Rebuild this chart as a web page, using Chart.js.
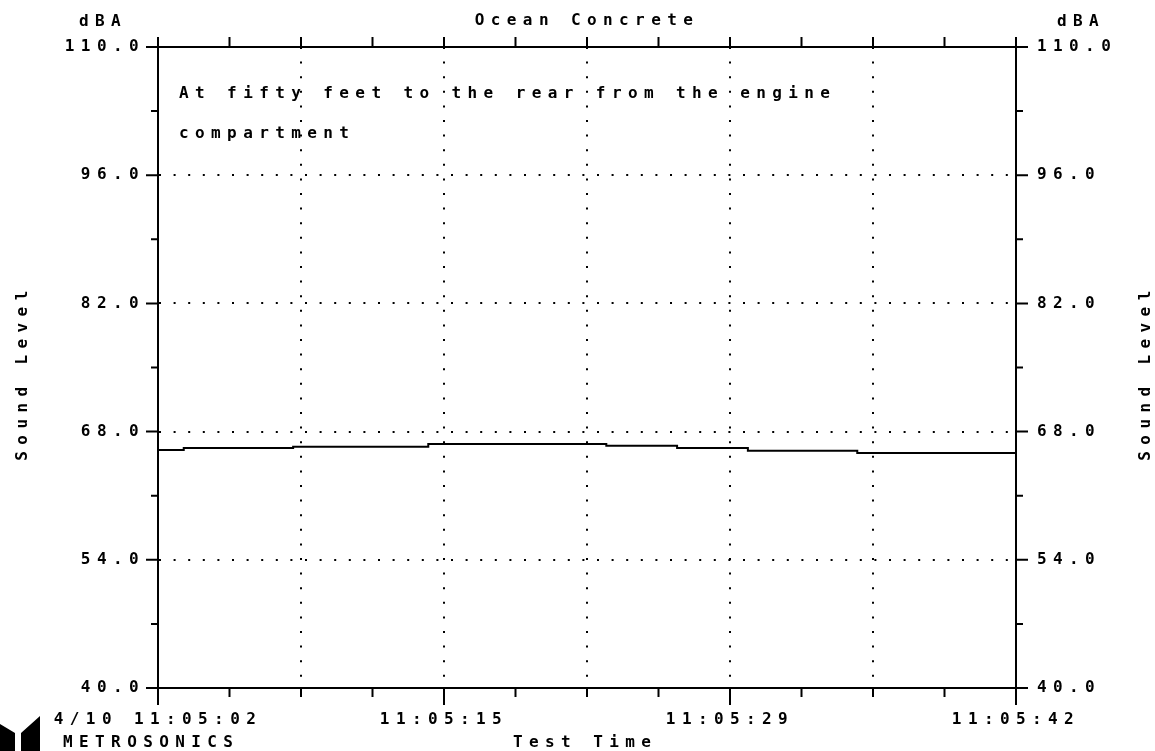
<!DOCTYPE html>
<html>
<head>
<meta charset="utf-8">
<script src="https://cdn.jsdelivr.net/npm/chart.js@4.4.1/dist/chart.umd.min.js"></script>
<style>
  html, body { margin: 0; padding: 0; background: #fff; }
  canvas { display: block; }
</style>
</head>
<body>
<canvas id="levelChart" width="1155" height="751"></canvas>
<script>
// sound level trace (seconds from 11:05:02, dBA)
const timeSec = [0, 1.2, 6.3, 12.6, 20.9, 24.2, 27.5, 32.6, 40];
const soundLevel = [66.0, 66.2, 66.35, 66.65, 66.45, 66.2, 65.9, 65.65, 65.65];

const xTickLabels = ['4/10 11:05:02', '11:05:15', '11:05:29', '11:05:42'];
const yTickValues = [40, 54, 68, 82, 96, 110];

const FONT = { family: '"DejaVu Sans Mono", monospace', size: 16, weight: 'bold' };
const FONT_CSS = 'bold 16px "DejaVu Sans Mono", monospace';
const SPACING = '6.4px';

// 12 tick marks along the time axis, dotted grid on every second one
function timeTicks(scale) {
    const ticks = [];
    for (let i = 0; i <= 12; i++) ticks.push({ value: i * 40 / 12 });
    scale.ticks = ticks;
}

const spacing = {
    id: 'spacing',
    beforeUpdate(chart) { chart.ctx.letterSpacing = SPACING; },
    beforeDraw(chart) { chart.ctx.letterSpacing = SPACING; }
};

const decorations = {
    id: 'decorations',
    afterDraw(chart) {
        const ctx = chart.ctx;
        const area = chart.chartArea;
        const s = chart.scales;
        ctx.save();
        ctx.strokeStyle = '#000';
        ctx.lineWidth = 2;

        // tick marks
        ctx.beginPath();
        s.x.ticks.forEach((t, i) => {
            const px = s.x.getPixelForTick(i);
            const len = i % 4 === 0 ? 17 : 9;
            ctx.moveTo(px, area.bottom);
            ctx.lineTo(px, area.bottom + len);
        });
        s.x2.ticks.forEach((t, i) => {
            const px = s.x2.getPixelForTick(i);
            ctx.moveTo(px, area.top);
            ctx.lineTo(px, area.top - 10);
        });
        s.y.ticks.forEach((t, i) => {
            const py = s.y.getPixelForTick(i);
            const len = yTickValues.includes(t.value) ? 12 : 7;
            ctx.moveTo(area.left, py);
            ctx.lineTo(area.left - len, py);
        });
        s.y2.ticks.forEach((t, i) => {
            const py = s.y2.getPixelForTick(i);
            const len = yTickValues.includes(t.value) ? 12 : 7;
            ctx.moveTo(area.right, py);
            ctx.lineTo(area.right + len, py);
        });
        ctx.stroke();

        // texts
        ctx.fillStyle = '#000';
        ctx.font = FONT_CSS;
        ctx.letterSpacing = SPACING;
        ctx.textBaseline = 'alphabetic';
        ctx.textAlign = 'left';
        ctx.fillText('dBA', 79, 26);
        ctx.fillText('dBA', 1057, 26);
        ctx.textAlign = 'center';
        ctx.fillText('Ocean Concrete', (area.left + area.right) / 2, 25);
        ctx.textAlign = 'left';
        ctx.fillText('At fifty feet to the rear from the engine', area.left + 21, 98);
        ctx.fillText('compartment', area.left + 21, 138);
        ctx.fillText('METROSONICS', 63, 747);
        ctx.fillText('Test Time', 513, 747);

        ctx.textAlign = 'center';
        [23, 1146].forEach(cx => {
            ctx.save();
            ctx.translate(cx, (area.top + area.bottom) / 2 + 5);
            ctx.rotate(-Math.PI / 2);
            ctx.textBaseline = 'middle';
            ctx.fillText('Sound Level', 0, 0);
            ctx.restore();
        });

        // logo block
        ctx.beginPath();
        ctx.moveTo(0, 724); ctx.lineTo(15, 733); ctx.lineTo(15, 751); ctx.lineTo(0, 751);
        ctx.closePath();
        ctx.moveTo(21, 733); ctx.lineTo(40, 716); ctx.lineTo(40, 751); ctx.lineTo(21, 751);
        ctx.closePath();
        ctx.fill();
        ctx.restore();
    }
};

function gridDots(ctx) {
    return ctx.tick && yTickValues.includes(ctx.tick.value) &&
        ctx.tick.value !== 40 && ctx.tick.value !== 110 ? '#000' : 'rgba(0,0,0,0)';
}

new Chart(document.getElementById('levelChart').getContext('2d'), {
    type: 'line',
    data: {
        datasets: [{
            data: timeSec.map((t, i) => ({ x: t, y: soundLevel[i] })),
            borderColor: '#000',
            borderWidth: 2,
            stepped: true,
            pointRadius: 0,
            fill: false
        }]
    },
    options: {
        responsive: false,
        animation: false,
        layout: { padding: 0 },
        plugins: { legend: { display: false }, tooltip: { enabled: false } },
        scales: {
            x: {
                type: 'linear', position: 'bottom', min: 0, max: 40,
                afterBuildTicks: timeTicks,
                afterFit(scale) { scale.height = 63; },
                border: { display: true, color: '#000', width: 2, dash: [2, 12.6] },
                grid: {
                    drawTicks: false,
                    lineWidth: 2,
                    color: ctx => (ctx.index % 2 === 0 && ctx.index > 0 && ctx.index < 12) ? '#000' : 'rgba(0,0,0,0)'
                },
                ticks: {
                    autoSkip: false, maxRotation: 0, minRotation: 0,
                    padding: 22, color: '#000', font: FONT,
                    callback: (v, i) => i % 4 === 0 ? xTickLabels[i / 4] : ''
                }
            },
            x2: {
                type: 'linear', position: 'top', min: 0, max: 40,
                afterBuildTicks: timeTicks,
                afterFit(scale) { scale.height = 47; },
                border: { display: true, color: '#000', width: 2 },
                grid: { drawOnChartArea: false, drawTicks: false },
                ticks: { display: false }
            },
            y: {
                position: 'left', min: 40, max: 110,
                afterFit(scale) { scale.width = 158; },
                border: { display: true, color: '#000', width: 2, dash: [2, 12.6] },
                grid: { drawTicks: false, lineWidth: 2, color: gridDots },
                ticks: {
                    stepSize: 7, autoSkip: false, padding: 13, color: '#000', font: FONT,
                    callback: v => yTickValues.includes(v) ? v.toFixed(1) : ''
                }
            },
            y2: {
                position: 'right', min: 40, max: 110,
                afterFit(scale) { scale.width = 139; },
                border: { display: true, color: '#000', width: 2 },
                grid: { drawOnChartArea: false, drawTicks: false },
                ticks: {
                    stepSize: 7, autoSkip: false, padding: 21, color: '#000', font: FONT,
                    callback: v => yTickValues.includes(v) ? v.toFixed(1) : ''
                }
            }
        }
    },
    plugins: [spacing, decorations]
});
</script>
</body>
</html>
